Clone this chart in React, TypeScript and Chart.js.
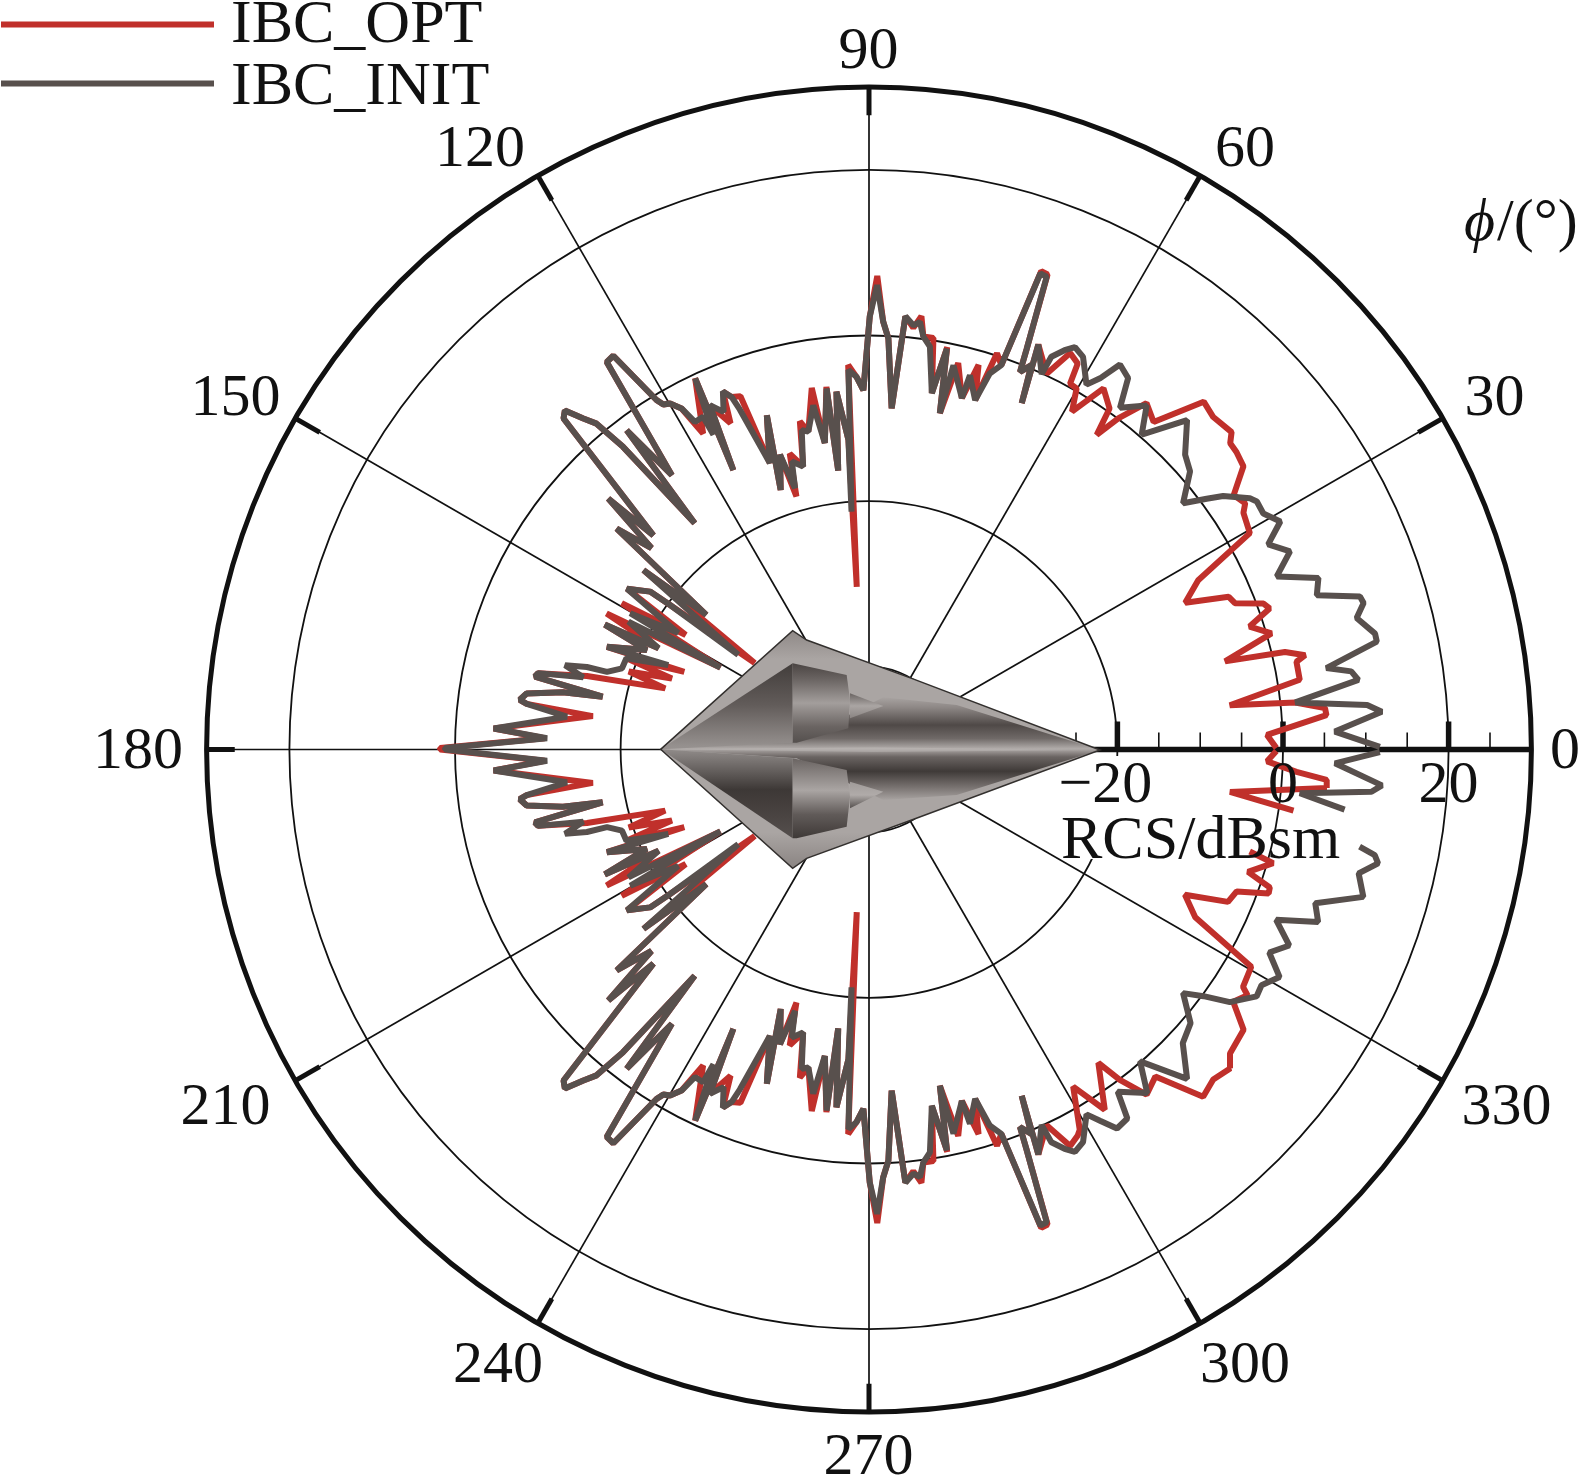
import React, { useEffect, useRef } from "react";
import { Chart, registerables } from "chart.js";

Chart.register(...registerables);

const seriesOptName = "IBC_OPT";
const seriesInitName = "IBC_INIT";

const phiOpt: (number | null)[] = [
  0.2, 2.1, 4.3, 5.2, 6.3, 7, 9.2, 11.6, 12.2, 13.2, 13.9, 16.1, 17.9, 19.4, 20.3, 21.8, 23, 24.9, 27.2, 29.6, 32.3, 33.2, 34.9, 37.1, 39, 40.3, 41.2, 44, 46.1, 49, 51.3, 53, 54.1, 54.8, 57, 59, 60.1, 61.2, 61.6, 63.1, 64.7, 67.3, 66.2, 67.1, 68.2, 68.5, 69.4, 70.2, 71, 72.1, 73.1, 74.1, 75.2, 77, 78.1, 79, 80, 81.1, 82.5, 83.1, 84, 85.2, 86.2, 87.3, 88.1, 89, 89.9, 90.9, 91.9, 93.1, 94.3, 93.8, 95.2, 96.3, 96.7, 98.2, 99, 100.8, 101.9, 103.1, 105, 106, 106.8, 108.8, 107, 109.1, 110, 111.3, 112.2, 113, 114.8, 115.9, 115.1, 117.7, 118.8, 119.9, 120.8, 121.3, 123, 124.1, 125.7, 127.2, 127.6, 129.1, 129.9, 130.8, 131.9, 132.7, 135.2, 136.1, 137.2, 138.8, 140.4, 141.5, 142.9, 144, 144.2, 146.4, 148, 149.4, 151.1, 152.6, 154.3, 154.7, 155.9, 158.6, 157.2, 159.4, 160.2, 162, 163.3, 165.4, 167, 167.7, 168.8, 169.4, 170.7, 171.9, 172.4, 173.1, 176.8, 178, 179.8, 180,
  182, 183.2, 186.9, 187.6, 188.1, 189.3, 190.6, 191.2, 192.3, 193, 194.6, 196.7, 198, 199.8, 200.6, 202.8, 201.4, 204.1, 205.3, 205.7, 207.4, 208.9, 210.6, 212, 213.6, 215.8, 216, 217.1, 218.5, 219.6, 221.2, 222.8, 223.9, 224.8, 227.3, 228.1, 229.2, 230.1, 230.9, 232.4, 232.8, 234.3, 235.9, 237, 238.7, 239.2, 240.1, 241.2, 242.3, 244.9, 244.1, 245.2, 247, 247.8, 248.7, 250, 250.9, 253, 251.2, 253.2, 254, 255, 256.9, 258.1, 259.2, 261, 261.8, 263.3, 263.7, 264.8, 266.2, 265.7, 266.9, 268.1, 269.1, 270.1, 271, 271.9, 272.7, 273.8, 274.8, 276, 276.9, 277.5, 278.9, 280, 281, 281.9, 283, 284.8, 285.9, 286.9, 287.9, 289, 289.8, 290.6, 291.5, 291.8, 292.9, 293.8, 292.7, 295.3, 296.9, 298.4, 299, 301.2, 303.2, 306.2, 307.2, 308.8, 311.2, 313.9, 316.2, 318.6, 319.9, 323.2, 325.3, 327, 327.6, 330.4, 332.8, 335.3, 337, 338.9, 340.2, 341, 342.1, 344.3, 345, null, 351.8, 353.3, 355.2, 356.2, 357, 358.3, 359.8,
];
const rcsOpt: (number | null)[] = [
  -0.8, -1.9, 5.4, 5.3, 1.8, -6.1, 2.7, 2.7, 3.9, 1.6, -5.7, 0.6, -1.7, 1.3, 0.8, -2.4, -2.8, -7.9, -5.3, 2.9, 3.5, 4.3, 3.7, 6.7, 7.1, 7.2, 8.2, 7.8, 8.3, 2.4, 3.6, 0.1, -3.1, 0.4, 2, -2.4, 0.3, 0.4, 3, 3.7, 0.2, 3, -4.3, 0.4, -0.9, 1.9, 11.3, 11.4, -0.9, 0.3, -5.9, -1.7, -6.1, -2.1, -8.5, -0.5, -6.3, 0.3, 0.3, 2.7, 1.2, 2.5, -8.7, -0.3, 1.7, 7.2, 2.3, -6.6, -5, -3.5, -30.3, -12.5, -6.6, -16.1, -5.9, -12.6, -5.8, -10.9, -9.5, -14.9, -13, -18.2, -12.8, -16.9, -7.8, -13.4, -4.6, -4.3, -3.3, -7.2, -4.2, -12.5, -0.5, -6.9, -3, -1.8, -1.5, -0.6, 6.7, 6.5, -9.2, -1.6, -15.5, -2.9, 1.3, 2.8, 5, 4.4, -13.3, -6.3, -14.2, -9.5, -24.5, -15.2, -32.7, -20.3, -17.4, -14.9, -23.9, -15.3, -29.5, -14.3, -21.8, -14.7, -20.6, -16, -25.8, -18.7, -24.7, -19.5, -24.3, -14.8, -9, -8.7, -17.2, -12.4, -8.1, -7.4, -8.3, -16.4, -4.6, -10.8, 1.8, 1.8,
  -10.8, -4.6, -16.4, -8.3, -7.4, -8.1, -12.4, -17.2, -8.7, -9, -14.8, -24.3, -19.5, -24.7, -18.7, -25.8, -16, -20.6, -14.7, -21.8, -14.3, -29.5, -15.3, -23.9, -14.9, -17.4, -20.3, -32.7, -15.2, -24.5, -9.5, -14.2, -6.3, -13.3, 4.4, 5, 2.8, 1.3, -2.9, -15.5, -1.6, -9.2, 6.5, 6.7, -0.6, -1.5, -1.8, -3, -6.9, -0.5, -12.5, -4.2, -7.2, -3.3, -4.3, -4.6, -13.4, -7.8, -16.9, -12.8, -18.2, -13, -14.9, -9.5, -10.9, -5.8, -12.6, -5.9, -16.1, -6.6, -12.5, -30.3, -3.5, -5, -6.6, 2.3, 7.2, 1.7, -0.3, -8.7, 2.5, 1.2, 2.7, 0.3, 0.3, -6.3, -0.5, -8.5, -2.1, -6.1, -1.7, -5.9, 0.3, -0.9, 11.4, 11.3, 1.9, -0.9, 0.4, -4.3, 3, 0.2, 3.7, 3, 2.5, -2.4, 2, -3.1, 0.1, 3.5, 2.5, 8.2, 7.6, 8.2, 7, 6.5, 3.5, 4.5, 3.5, 3.1, -5.7, -8, -2.9, -2.4, 1.3, 1.2, -1.9, 0.7, -2.4, null, 1.8, -6.1, 5.5, 5.4, 1.7, -1.9, -0.8,
];

const phiInit: (number | null)[] = [
  0.3, 2.2, 4.2, 5.1, 6.3, 8.1, 9.2, 10.1, 12, 12.9, 15.1, 16.5, 17.3, 19, 20.9, 23, 25.2, 27.2, 29, 30.9, 32.6, 33.4, 35.6, 36.6, 38.1, 40.9, 43, 46, 49.1, 51.1, 53.7, 55.1, 56.9, 58.1, 59.2, 61.4, 62.9, 63.9, 65.1, 65.3, 67.3, 66.2, 67.1, 68.2, 68.5, 69.4, 70.2, 71, 72.2, 73.1, 74.9, 75.2, 77.6, 78.1, 79, 80, 81.4, 82.5, 83.2, 84, 85.2, 86.2, 87.3, 88.1, 89, 89.9, 90.9, 91.9, 93.1, 94.2, 93.8, 95.2, 96.3, 96.7, 98.2, 99.2, 100.8, 101.9, 103.1, 105, 105.8, 106.8, 108.8, 107, 109.1, 110.8, 111.3, 112.2, 113.3, 114.8, 115.9, 115.1, 116.3, 116.5, 118, 118.8, 119.9, 120.8, 121.3, 123, 124.1, 125.7, 127.2, 127.6, 129.1, 129.9, 130.8, 131.9, 132.7, 135.2, 136.1, 137.2, 138.8, 140.4, 141.5, 144.1, 144, 144.2, 146.4, 148.6, 150.3, 151.1, 152, 154.3, 154.7, 155.9, 158.6, 157.2, 159.4, 161.8, 163.5, 163.7, 164.5, 165.8, 167, 167.7, 168.8, 169.4, 170.7, 171.9, 172.4, 173.8, 176.8, 178, 179.8, 180,
  182, 183.2, 186.2, 187.6, 188.1, 189.3, 190.6, 191.2, 192.3, 193, 194.2, 195.5, 196.3, 196.5, 198.2, 200.6, 202.8, 201.4, 204.1, 205.3, 205.7, 208, 208.9, 209.7, 211.4, 213.6, 215.8, 216, 215.9, 218.5, 219.6, 221.2, 222.8, 223.9, 224.8, 227.3, 228.1, 229.2, 230.1, 230.9, 232.4, 232.8, 234.3, 235.9, 237, 238.7, 239.2, 240.1, 241.2, 242, 243.5, 243.7, 244.9, 244.1, 245.2, 246.7, 247.8, 248.7, 249.2, 250.9, 253, 251.2, 253.2, 254.2, 255, 256.9, 258.1, 259.2, 260.8, 261.8, 263.3, 263.7, 264.8, 266.2, 265.8, 266.9, 268.1, 269.1, 270.1, 271, 271.9, 272.7, 273.8, 274.8, 276, 276.8, 277.5, 278.6, 280, 281, 281.9, 282.4, 284.8, 285.1, 286.9, 287.8, 289, 289.8, 290.6, 291.5, 291.8, 292.9, 293.8, 292.7, 294.7, 294.9, 296.1, 297.1, 298.6, 300.8, 301.9, 303.2, 305, 306, 309, 311, 314, 316.9, 319.6, 322.2, 323.6, 325, 327.5, 329, 331, 333.1, 335, 337.3, 339, 341, 343.4, 345.8, 347.4, 348.2, 348.8, null, 352.8, 354.2, 355.2, 356, 358.3, 359.7,
];
const rcsInit: (number | null)[] = [
  11.7, 6.3, 12.1, 10.4, 1.8, 9.7, 9, 6.1, 12.7, 12.7, 11, 12.3, 12.1, 7.2, 8.1, 3.5, 6.2, 4.2, 6.8, 5.5, 5.6, 5.1, 2.6, 0.8, -1.8, 1.3, 2.2, 5.3, 0.3, 3.4, 1.2, 4.7, 5.5, 2.8, 1.3, 4, 4.6, 3.7, 2.3, -0.1, 3, -4.3, 0.4, -0.9, 1.9, 11, 11.1, -0.9, -2.3, -5.9, -3.2, -6.1, -2.5, -8.5, -0.7, -6.3, -0.8, 0.3, 2, 1.5, 2.5, -8.7, -0.3, 1.7, 6.1, 2.3, -6.6, -5, -4.1, -21.2, -12.5, -6.6, -16.1, -6.1, -12.6, -7.9, -10.9, -10.6, -14.9, -14, -17.2, -12.8, -16.9, -7.8, -13.4, -6.1, -4.3, -3.3, -5.6, -4.2, -12.5, -0.5, -7.6, -5.1, -5.2, -3, -1.8, -1.5, -0.6, 6.7, 6.5, -9.2, -1.6, -15.5, -2.9, 1.3, 2.8, 5, 4.4, -13.3, -6.3, -14.2, -9.5, -24.5, -15.2, -30.5, -20.3, -17.4, -14.9, -23, -16.8, -29.5, -17.1, -21.8, -14.7, -20.6, -16, -23.7, -18.7, -18.6, -17, -14.5, -11.9, -14.4, -9, -8.7, -17.2, -12.4, -8.1, -7.4, -8.3, -13.3, -4.6, -11.1, 1.2, 1.2,
  -11.1, -4.6, -13.3, -8.3, -7.4, -8.1, -12.4, -17.2, -8.7, -9, -14.4, -11.9, -14.5, -17, -18.6, -18.7, -23.7, -16, -20.6, -14.7, -21.8, -17.1, -29.5, -16.8, -23, -14.9, -17.4, -20.3, -30.5, -15.2, -24.5, -9.5, -14.2, -6.3, -13.3, 4.4, 5, 2.8, 1.3, -2.9, -15.5, -1.6, -9.2, 6.5, 6.7, -0.6, -1.5, -1.8, -3, -5.2, -5.1, -7.6, -0.5, -12.5, -4.2, -5.6, -3.3, -4.3, -6.1, -13.4, -7.8, -16.9, -12.8, -17.2, -14, -14.9, -10.6, -10.9, -7.9, -12.6, -6.1, -16.1, -6.6, -12.5, -21.2, -4.1, -5, -6.6, 2.3, 6.1, 1.7, -0.3, -8.7, 2.5, 1.5, 2, 0.3, -0.8, -6.3, -0.7, -8.5, -2.5, -6.1, -3.2, -5.9, -2.3, -0.9, 11.1, 11, 1.9, -0.9, 0.4, -4.3, 3, -0.1, 2.3, 3.7, 4.6, 4, 1.3, 2.8, 4.7, 4.4, 1.1, 3.4, -0.1, 5.3, 1.9, 1, -2, 0.2, 3.2, 5.5, 5.3, 6.7, 4.2, 6, 3.3, 8.1, 7, 12.3, 11, 13, 12.4, 10.4, null, 7.9, 2.3, 10.9, 12.1, 6.3, 11.7,
];

const RCS_MIN = -50;
const RCS_MAX = 30;
const rcsCircles = [-40, -20, 0, 20];
const rcsMajorTicks = [-20, 0, 20];
const rcsMinorTicks = [-25, -15, -10, -5, 5, 10, 15, 25];
const phiSpokes = [0, 30, 60, 90, 120, 150, 180, 210, 240, 270, 300, 330];
const rcsLabels = ["\u221220", "0", "20"];

const RED = "#c0302b";
const GRAY = "#58504d";
const CX = 869;
const CY = 749.5;
const PX_PER_DB = 8.28;
const W = 1578;
const H = 1478;

const toPoints = (phi: (number | null)[], rcs: (number | null)[]) =>
  phi.map((p, i) => {
    const v = rcs[i];
    if (p === null || v === null) return { x: NaN, y: NaN };
    const a = (p * Math.PI) / 180;
    return { x: (v - RCS_MIN) * Math.cos(a), y: (v - RCS_MIN) * Math.sin(a) };
  });

const poly = (ctx: CanvasRenderingContext2D, pts: number[][]) => {
  ctx.beginPath();
  pts.forEach(([zx, zy], i) => {
    const x = 640 + zx / 3;
    const y = 610 + zy / 3;
    if (i === 0) ctx.moveTo(x, y);
    else ctx.lineTo(x, y);
  });
  ctx.closePath();
};
const vgrad = (ctx: CanvasRenderingContext2D, z0: number, z1: number, stops: [number, string][]) => {
  const g = ctx.createLinearGradient(0, 610 + z0 / 3, 0, 610 + z1 / 3);
  stops.forEach(([s, c]) => g.addColorStop(s, c));
  return g;
};

const drawAircraft = (ctx: CanvasRenderingContext2D) => {
  ctx.save();
  const outer = [[1380, 420], [815, 205], [500, 90], [458, 62], [62, 418], [458, 775], [500, 745], [815, 630]];
  poly(ctx, outer);
  ctx.fillStyle = vgrad(ctx, 62, 775, [[0, "#8f8987"], [0.12, "#aaa5a3"], [0.85, "#aaa5a3"], [1, "#8a8482"]]);
  ctx.fill();
  // fuselage
  poly(ctx, [[1380, 420], [950, 285], [730, 262], [470, 395], [62, 418], [470, 445], [730, 570], [950, 555]]);
  ctx.fillStyle = vgrad(ctx, 262, 570, [
    [0, "#a8a3a1"], [0.1, "#8d8785"], [0.27, "#4f4947"], [0.4, "#6f6967"], [0.5, "#b0aba9"], [0.58, "#6a6462"], [0.72, "#3f3a38"], [0.88, "#7a7472"], [1, "#a8a3a1"],
  ]);
  ctx.fill();
  // upper intake ramp
  poly(ctx, [[62, 418], [458, 160], [458, 398]]);
  ctx.fillStyle = vgrad(ctx, 160, 410, [[0, "#423d3b"], [0.5, "#625c5a"], [1, "#96918f"]]);
  ctx.fill();
  poly(ctx, [[458, 160], [620, 195], [630, 270], [625, 355], [470, 398], [458, 398]]);
  ctx.fillStyle = vgrad(ctx, 160, 398, [[0, "#4a4442"], [0.2, "#6a6462"], [0.5, "#a39e9c"], [0.8, "#6a6462"], [1, "#55504e"]]);
  ctx.fill();
  // lower intake ramp
  poly(ctx, [[62, 418], [458, 445], [458, 685]]);
  ctx.fillStyle = vgrad(ctx, 420, 685, [[0, "#8f8a88"], [0.45, "#3d3836"], [0.75, "#4a4442"], [1, "#55504e"]]);
  ctx.fill();
  poly(ctx, [[458, 445], [620, 480], [630, 560], [620, 650], [470, 685], [458, 685]]);
  ctx.fillStyle = vgrad(ctx, 445, 685, [[0, "#6a6462"], [0.4, "#aaa5a3"], [0.7, "#615b59"], [1, "#3e3937"]]);
  ctx.fill();
  // small cones
  poly(ctx, [[630, 250], [730, 288], [630, 325]]);
  ctx.fillStyle = vgrad(ctx, 250, 325, [[0, "#6a6462"], [0.5, "#aaa5a3"], [1, "#8a8482"]]);
  ctx.fill();
  poly(ctx, [[630, 515], [730, 545], [630, 595]]);
  ctx.fillStyle = vgrad(ctx, 515, 595, [[0, "#a09b99"], [0.5, "#b0aba9"], [1, "#55504e"]]);
  ctx.fill();
  // centre streak
  poly(ctx, [[62, 418], [700, 412], [1380, 420], [700, 426]]);
  ctx.fillStyle = "rgba(190,186,184,0.45)";
  ctx.fill();
  // outline
  poly(ctx, outer);
  ctx.strokeStyle = "#33302e";
  ctx.lineWidth = 1.5;
  ctx.stroke();
  ctx.restore();
};

const polarGrid = {
  id: "polarGrid",
  beforeDatasetsDraw(chart: any) {
    const { ctx, scales } = chart;
    const xs = scales.x;
    const ys = scales.y;
    const cx = xs.getPixelForValue(0);
    const cy = ys.getPixelForValue(0);
    const unit = xs.getPixelForValue(1) - cx;
    const at = (v: number, deg: number): [number, number] => {
      const a = (deg * Math.PI) / 180;
      return [xs.getPixelForValue((v - RCS_MIN) * Math.cos(a)), ys.getPixelForValue((v - RCS_MIN) * Math.sin(a))];
    };
    ctx.save();
    ctx.strokeStyle = "#111";
    ctx.lineWidth = 1.8;
    rcsCircles.forEach((v) => {
      ctx.beginPath();
      ctx.arc(cx, cy, (v - RCS_MIN) * unit, 0, Math.PI * 2);
      ctx.stroke();
    });
    // the label block interrupts the -20 ring
    ctx.fillStyle = "#fff";
    ctx.fillRect(1055, 756, 90, 103);
    phiSpokes.forEach((deg) => {
      const [x, y] = at(RCS_MAX, deg);
      ctx.beginPath();
      ctx.moveTo(cx, cy);
      ctx.lineTo(x, y);
      ctx.lineWidth = 1.7;
      ctx.stroke();
      const [tx, ty] = at(RCS_MAX - 3.4, deg);
      ctx.beginPath();
      ctx.moveTo(x, y);
      ctx.lineTo(tx, ty);
      ctx.lineWidth = 5;
      ctx.stroke();
    });
    ctx.beginPath();
    ctx.arc(cx, cy, (RCS_MAX - RCS_MIN) * unit, 0, Math.PI * 2);
    ctx.lineWidth = 5;
    ctx.stroke();
    // radial axis
    const [x0] = at(-24, 0);
    const [x1] = at(RCS_MAX, 0);
    ctx.lineWidth = 5.5;
    ctx.beginPath();
    ctx.moveTo(x0, cy);
    ctx.lineTo(x1, cy);
    ctx.stroke();
    rcsMajorTicks.forEach((v) => {
      const [x] = at(v, 0);
      ctx.lineWidth = 5.5;
      ctx.beginPath();
      ctx.moveTo(x, cy);
      ctx.lineTo(x, cy - 28);
      ctx.stroke();
    });
    rcsMinorTicks.forEach((v) => {
      const [x] = at(v, 0);
      ctx.lineWidth = 1.6;
      ctx.beginPath();
      ctx.moveTo(x, cy);
      ctx.lineTo(x, cy - 17);
      ctx.stroke();
    });
    ctx.restore();
  },
  afterDatasetsDraw(chart: any) {
    const { ctx, scales, data } = chart;
    const xs = scales.x;
    drawAircraft(ctx);
    ctx.save();
    ctx.fillStyle = "#111";
    ctx.font = '60px "Liberation Serif"';
    ctx.textAlign = "center";
    ctx.textBaseline = "middle";
    const labelPos: [string, number, number][] = [
      ["90", 868.5, 50], ["60", 1245, 148], ["120", 480, 148], ["30", 1494.5, 397.5], ["150", 235.5, 397.5],
      ["180", 138, 750], ["210", 225.5, 1106], ["330", 1506.5, 1106], ["240", 498, 1364.7], ["300", 1245, 1364.7],
      ["270", 868.5, 1456], ["0", 1565, 750],
    ];
    labelPos.forEach(([t, x, y]) => ctx.fillText(t, x, y + 2));
    rcsMajorTicks.forEach((v, i) => {
      ctx.fillText(rcsLabels[i], xs.getPixelForValue(v - RCS_MIN) + (v < 0 ? -12 : 0), 786);
    });
    ctx.textBaseline = "alphabetic";
    ctx.textAlign = "left";
    ctx.font = '62px "Liberation Serif"';
    ctx.fillText("RCS/dBsm", 1061, 858);
    ctx.font = 'italic 60px "Liberation Serif"';
    ctx.fillText("\u03d5", 1464, 240);
    ctx.font = '60px "Liberation Serif"';
    ctx.fillText("/(\u00b0)", 1497, 240);
    // legend
    ctx.font = '62px "Liberation Serif"';
    const rows = [
      { y: 24.5, base: 42, i: 1 },
      { y: 83.5, base: 103.5, i: 0 },
    ];
    rows.forEach((r) => {
      const ds = data.datasets[r.i];
      ctx.strokeStyle = ds.borderColor;
      ctx.lineWidth = 6;
      ctx.beginPath();
      ctx.moveTo(1, r.y);
      ctx.lineTo(214, r.y);
      ctx.stroke();
      ctx.fillStyle = "#111";
      ctx.fillText(ds.label, 231, r.base);
    });
    ctx.restore();
  },
};

export default function App() {
  const ref = useRef<HTMLCanvasElement>(null);
  useEffect(() => {
    if (!ref.current) return;
    const chart = new Chart(ref.current, {
      type: "scatter",
      data: {
        datasets: [
          {
            label: seriesInitName,
            data: toPoints(phiInit, rcsInit),
            borderColor: GRAY,
            backgroundColor: GRAY,
            borderWidth: 6,
            showLine: true,
            pointRadius: 0,
            spanGaps: false,
            borderJoinStyle: "bevel",
            borderCapStyle: "butt",
            order: 1,
          },
          {
            label: seriesOptName,
            data: toPoints(phiOpt, rcsOpt),
            borderColor: RED,
            backgroundColor: RED,
            borderWidth: 6,
            showLine: true,
            pointRadius: 0,
            spanGaps: false,
            borderJoinStyle: "bevel",
            borderCapStyle: "butt",
            order: 2,
          },
        ],
      } as any,
      options: {
        animation: false,
        responsive: false,
        devicePixelRatio: 1,
        layout: { padding: 0 },
        plugins: { legend: { display: false }, tooltip: { enabled: false }, title: { display: false } },
        scales: {
          x: { type: "linear", display: false, min: -CX / PX_PER_DB, max: (W - CX) / PX_PER_DB },
          y: { type: "linear", display: false, min: -(H - CY) / PX_PER_DB, max: CY / PX_PER_DB },
        },
      } as any,
      plugins: [polarGrid as any],
    });
    return () => chart.destroy();
  }, []);
  return (
    <div style={{ position: "absolute", left: 0, top: 0, width: W, height: H, background: "#fff" }}>
      <canvas ref={ref} width={W} height={H} style={{ display: "block" }} />
    </div>
  );
}
